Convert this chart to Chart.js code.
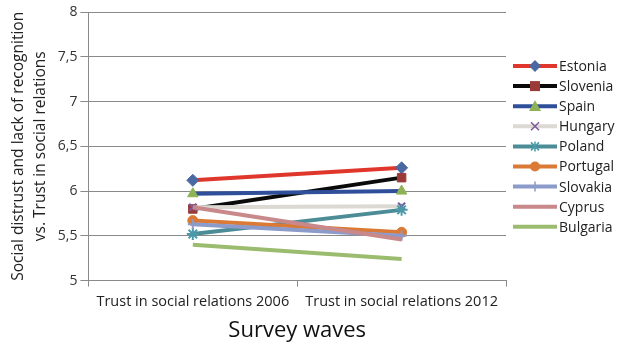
<!DOCTYPE html>
<html><head><meta charset="utf-8">
<script src="https://cdn.jsdelivr.net/npm/chart.js@4.4.1/dist/chart.umd.min.js"></script>
<style>html,body{margin:0;padding:0;background:#fff}#wrap{width:617px;height:346px}</style>
</head><body><div id="wrap"><canvas id="c"></canvas></div>
<script>
const categories = ["Trust in social relations 2006", "Trust in social relations 2012"];
const countries = ["Estonia","Slovenia","Spain","Hungary","Poland","Portugal","Slovakia","Cyprus","Bulgaria"];
const estonia  = [6.12, 6.26];
const slovenia = [5.80, 6.15];
const spain    = [5.97, 6.00];
const hungary  = [5.82, 5.83];
const poland   = [5.52, 5.79];
const portugal = [5.67, 5.54];
const slovakia = [5.63, 5.50];
const cyprus   = [5.82, 5.46];
const bulgaria = [5.40, 5.24];
const yTicks = [5, 5.5, 6, 6.5, 7, 7.5, 8];

const values = [estonia, slovenia, spain, hungary, poland, portugal, slovakia, cyprus, bulgaria];
const lineColors = ["#E0372D","#0a0a0a","#2F4F9A","#DCD8D2","#4B8C96","#DB7A36","#8C9BC9","#C9888A","#9BBC6E"];
const markColors = ["#4A68A2","#9A3B38","#8DB356","#7B5A9C","#4A9AAA","#DB7A36","#8C9BC9",null,null];
const styles = ["rectRot","rect","triangle","crossRot","star","circle","cross",false,false];
const radii = [6,6,6,5,6,5,5,0,0];
const FONT = "'Open Sans'";

function drawMarker(ctx, s, color, cx, cy, r){
  ctx.save();
  ctx.fillStyle = color; ctx.strokeStyle = color; ctx.lineWidth = 1.5;
  ctx.beginPath();
  if (s==="rectRot"){ctx.moveTo(cx,cy-r);ctx.lineTo(cx+r,cy);ctx.lineTo(cx,cy+r);ctx.lineTo(cx-r,cy);ctx.closePath();ctx.fill();}
  else if (s==="rect"){ctx.fillRect(cx-r+1,cy-r+1,2*r-2,2*r-2);}
  else if (s==="triangle"){ctx.moveTo(cx,cy-r);ctx.lineTo(cx+r,cy+r*0.8);ctx.lineTo(cx-r,cy+r*0.8);ctx.closePath();ctx.fill();}
  else if (s==="crossRot"){ctx.moveTo(cx-4,cy-4);ctx.lineTo(cx+4,cy+4);ctx.moveTo(cx+4,cy-4);ctx.lineTo(cx-4,cy+4);ctx.stroke();}
  else if (s==="star"){ctx.moveTo(cx-4,cy-4);ctx.lineTo(cx+4,cy+4);ctx.moveTo(cx+4,cy-4);ctx.lineTo(cx-4,cy+4);ctx.moveTo(cx,cy-5);ctx.lineTo(cx,cy+5);ctx.stroke();}
  else if (s==="circle"){ctx.arc(cx,cy,r,0,Math.PI*2);ctx.fill();}
  else if (s==="cross"){ctx.moveTo(cx,cy-5);ctx.lineTo(cx,cy+5);ctx.moveTo(cx-5,cy);ctx.lineTo(cx+5,cy);ctx.stroke();}
  ctx.restore();
}

const sideLegend = {
  id: 'sideLegend',
  afterDraw(chart){
    const ctx = chart.ctx;
    const x0 = 513, lineW = 44, top = 66, step = 20.1;
    ctx.save();
    ctx.font = "14px " + FONT; ctx.textBaseline = 'middle';
    chart.data.datasets.forEach((d,i)=>{
      const y = top + step*i;
      ctx.strokeStyle = lineColors[i]; ctx.lineWidth = 4;
      ctx.beginPath(); ctx.moveTo(x0,y); ctx.lineTo(x0+lineW,y); ctx.stroke();
      if (styles[i]) drawMarker(ctx, styles[i], markColors[i], x0+lineW/2, y, radii[i]);
      ctx.fillStyle = '#222';
      ctx.fillText(d.label, x0+lineW+2, y+1);
    });
    ctx.restore();
  }
};

const datasets = countries.map((name,i)=>({
  label: name,
  data: values[i],
  borderColor: lineColors[i],
  backgroundColor: markColors[i] || lineColors[i],
  borderWidth: 4,
  pointStyle: styles[i] || 'circle',
  pointRadius: radii[i],
  pointHoverRadius: radii[i],
  pointBackgroundColor: markColors[i] || lineColors[i],
  pointBorderColor: markColors[i] || lineColors[i],
  pointBorderWidth: (styles[i]==="crossRot"||styles[i]==="star"||styles[i]==="cross") ? 2 : 1,
  order: countries.length - i,
  tension: 0
}));

new Chart(document.getElementById('c'), {
  type: 'line',
  data: { labels: categories, datasets },
  plugins: [sideLegend],
  options: {
    responsive: true, maintainAspectRatio: false, animation: false,
    layout: { padding: { top: 12, right: 111, left: 8, bottom: 4 } },
    plugins: { tooltip: { enabled: false }, legend: { display: false } },
    scales: {
      x: {
        offset: true,
        grid: { offset: true, drawOnChartArea: false, drawTicks: true, tickLength: 6, color: '#8a8a8a' },
        border: { color: '#8a8a8a' },
        ticks: { font: { family: FONT, size: 14.5 }, color: '#222', maxRotation: 0, padding: 7 },
        title: { display: true, text: 'Survey waves', font: { family: FONT, size: 22, lineHeight: 1.0 }, color: '#111', padding: { top: 2, bottom: 0 } }
      },
      y: {
        min: 5, max: 8,
        afterBuildTicks: (s) => { s.ticks = yTicks.map(v => ({ value: v })); },
        grid: { color: '#8a8a8a', tickLength: 8 },
        border: { color: '#8a8a8a' },
        ticks: { font: { family: FONT, size: 14 }, color: '#333', padding: 3,
                 callback: (v) => String(v).replace('.', ',') },
        title: { display: true, text: ['Social distrust and lack of recognition', 'vs. Trust in social relations'],
                 font: { family: FONT, size: 15.5, lineHeight: 1.38 }, color: '#222', padding: { top: 0, bottom: 4 } }
      }
    }
  }
});
</script></body></html>
